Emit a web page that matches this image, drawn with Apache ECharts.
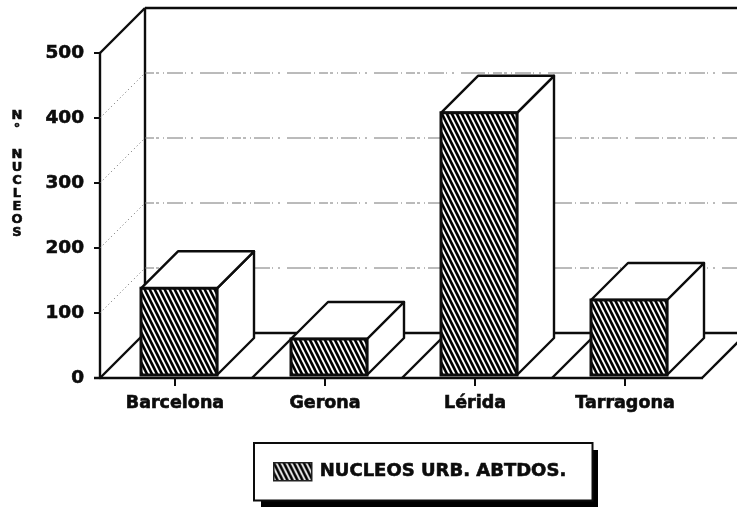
<!DOCTYPE html>
<html>
<head>
<meta charset="utf-8">
<style>
html, body { margin: 0; padding: 0; background: #fff; }
#chart { width: 737px; height: 508px; filter: blur(0.45px); }
</style>
<script src="https://cdn.jsdelivr.net/npm/echarts@6/dist/echarts.min.js"></script>
</head>
<body>
<div id="chart"></div>
<script>
var categories = ['Barcelona', 'Gerona', 'Lérida', 'Tarragona'];
var nucleos = [138, 60, 408, 120];
var yTicks = [0, 100, 200, 300, 400, 500];
var seriesName = 'NUCLEOS URB. ABTDOS.';
var yTitle = 'N° NUCLEOS';

var INK = '#0c0c0c';
var FONT = '"DejaVu Sans", sans-serif';
/* depth of the fake 3d, in pixels */
var WALL_DX = 45, WALL_DY = 45;
var BOX_DX = 37, BOX_DY = 37;
var BOX_WIDTH = 76, BOX_SHIFT = 4, BOX_LIFT = 3;

function hatchTile() {
    var c = document.createElement('canvas');
    c.width = 5;
    c.height = 10;
    var ctx = c.getContext('2d');
    ctx.fillStyle = '#fff';
    ctx.fillRect(0, 0, 5, 10);
    ctx.strokeStyle = '#000';
    ctx.lineWidth = 2.6;
    for (var i = -1; i <= 1; i++) {
        ctx.beginPath();
        ctx.moveTo(i * 5 - 1, -2);
        ctx.lineTo(i * 5 + 6, 12);
        ctx.stroke();
    }
    return c;
}
var hatch = { image: hatchTile(), repeat: 'repeat' };

function line(x1, y1, x2, y2, style) {
    return { type: 'line', shape: { x1: x1, y1: y1, x2: x2, y2: y2 }, style: style };
}
var solid = { stroke: INK, lineWidth: 2.4, fill: null };
var dotted = { stroke: '#777', lineWidth: 1, lineDash: [9, 2, 3, 4, 1, 3, 16, 2, 1, 5, 2, 7, 24, 3, 1, 4], fill: null };
var dottedSide = { stroke: '#666', lineWidth: 1, lineDash: [1, 3], fill: null };

/* one wall line per y tick: diagonal on the side wall, then along the back */
function renderWall(params, api) {
    var v = api.value(0);
    var p = api.coord([0, v]);
    var x0 = params.coordSys.x;
    var right = params.coordSys.x + params.coordSys.width + 60;
    var edge = v === 0 || v === yTicks[yTicks.length - 1];
    var children = [
        line(x0, p[1], x0 + WALL_DX, p[1] - WALL_DY, edge ? solid : dottedSide),
        line(x0 + WALL_DX, p[1] - WALL_DY, right, p[1] - WALL_DY, edge ? solid : dotted)
    ];
    if (v === 0) {
        var top = api.coord([0, yTicks[yTicks.length - 1]]);
        children.push(line(x0 + WALL_DX, top[1] - WALL_DY, x0 + WALL_DX, p[1] - WALL_DY, solid));
        children.push(line(x0 - 6, p[1], right - 57, p[1], solid));
    }
    return { type: 'group', children: children };
}

/* floor diagonal at the right side of each category */
function renderFloor(params, api) {
    var p = api.coord([api.value(0), 0]);
    var x = p[0] + api.size([1, 0])[0] / 2 + 2;
    return line(x, p[1], x + WALL_DX, p[1] - WALL_DY, solid);
}

function renderBox(params, api) {
    var top = api.coord([api.value(0), api.value(1)]);
    var base = api.coord([api.value(0), 0]);
    var l = top[0] - BOX_WIDTH / 2 + BOX_SHIFT;
    var r = l + BOX_WIDTH;
    var t = top[1];
    var b = base[1] - BOX_LIFT;
    var white = { fill: '#fff', stroke: INK, lineWidth: 2.4, lineJoin: 'round' };
    return {
        type: 'group',
        children: [
            { type: 'polygon', shape: { points: [[r, t], [r + BOX_DX, t - BOX_DY], [r + BOX_DX, b - BOX_DY], [r, b]] }, style: white },
            { type: 'polygon', shape: { points: [[l, t], [l + BOX_DX, t - BOX_DY], [r + BOX_DX, t - BOX_DY], [r, t]] }, style: white },
            { type: 'rect', shape: { x: l, y: t, width: r - l, height: b - t }, style: { fill: hatch, stroke: INK, lineWidth: 3 } }
        ]
    };
}

var chart = echarts.init(document.getElementById('chart'), null, { renderer: 'canvas' });
chart.setOption({
    animation: false,
    backgroundColor: '#fff',
    grid: { left: 100, right: 37, top: 53, bottom: 130 },
    title: {
        text: yTitle.split('').join('\n'),
        left: 17,
        top: 109,
        padding: 0,
        textAlign: 'center',
        textStyle: { fontFamily: FONT, fontWeight: 'bold', fontSize: 13, lineHeight: 13, color: INK, textBorderColor: INK, textBorderWidth: 0.6 }
    },
    /* hard drop shadow behind the legend box */
    graphic: {
        elements: [{
            type: 'rect',
            left: 261,
            top: 450,
            z: 0,
            silent: true,
            shape: { width: 337, height: 57 },
            style: { fill: '#000' }
        }]
    },
    legend: {
        data: [seriesName],
        left: 254,
        top: 443,
        padding: [19, 26, 19, 19],
        itemWidth: 38,
        itemHeight: 18,
        itemGap: 0,
        backgroundColor: '#fff',
        borderColor: INK,
        borderWidth: 2,
        borderRadius: 0,
        icon: 'rect',
        itemStyle: { color: hatch, borderColor: '#222', borderWidth: 1.5 },
        textStyle: { fontFamily: FONT, fontWeight: 'bold', fontSize: 18, color: INK, padding: [0, 0, 0, 3], textBorderColor: INK, textBorderWidth: 0.6 }
    },
    xAxis: {
        type: 'category',
        data: categories,
        axisLine: { show: false },
        axisTick: { show: true, alignWithLabel: true, length: 8, lineStyle: { color: INK, width: 2 } },
        axisLabel: { margin: 16, fontFamily: FONT, fontWeight: 'bold', fontSize: 17.5, color: INK, interval: 0, textBorderColor: INK, textBorderWidth: 0.6 },
        splitLine: { show: false }
    },
    yAxis: {
        type: 'value',
        min: 0,
        max: 500,
        interval: 100,
        axisLine: { show: true, lineStyle: { color: INK, width: 2.4 } },
        axisTick: { show: true, length: 6, lineStyle: { color: INK, width: 2 } },
        axisLabel: { margin: 16, fontFamily: FONT, fontWeight: 'bold', fontSize: 18.5, color: INK, padding: [3, 0, 0, 0], textBorderColor: INK, textBorderWidth: 0.6 },
        splitLine: { show: false }
    },
    series: [
        {
            type: 'custom',
            name: 'walls',
            silent: true,
            z: 1,
            renderItem: renderWall,
            encode: { y: 0 },
            data: yTicks.map(function (v) { return [v]; })
        },
        {
            type: 'custom',
            name: 'floor',
            silent: true,
            z: 2,
            renderItem: renderFloor,
            encode: { x: 0 },
            data: categories.map(function (c, i) { return [i]; })
        },
        {
            type: 'custom',
            name: seriesName,
            z: 3,
            itemStyle: { color: hatch },
            renderItem: renderBox,
            encode: { x: 0, y: 1 },
            data: nucleos.map(function (v, i) { return [i, v]; })
        }
    ]
});
</script>
</body>
</html>
